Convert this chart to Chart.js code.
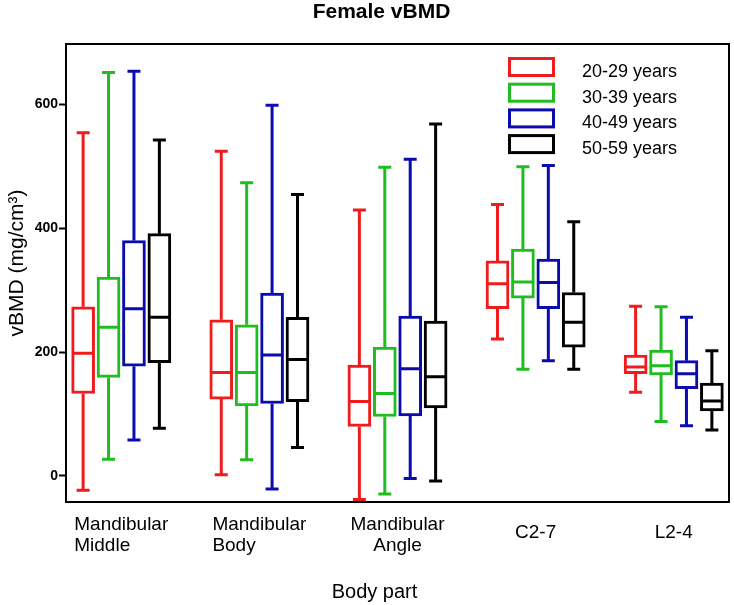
<!DOCTYPE html>
<html>
<head>
<meta charset="utf-8">
<title>Female vBMD</title>
<script src="https://cdn.jsdelivr.net/npm/chart.js@4.4.1/dist/chart.umd.min.js"></script>
<style>
    body { margin: 0; background: #fff; }
    #wrap { width: 734px; height: 605px; }
</style>
</head>
<body>
<div id="wrap"><canvas id="boxChart" width="734" height="605"></canvas></div>
<script>
// --- Data ---
const bodyParts = [['Mandibular', 'Middle'], ['Mandibular', 'Body'], ['Mandibular', 'Angle'], ['C2-7'], ['L2-4']];
const ageGroups = ['20-29 years', '30-39 years', '40-49 years', '50-59 years'];
const yTicks = [0, 200, 400, 600];

// each entry: [min, q1, median, q3, max]
const age20s = [[-23, 133, 198, 273, 554], [2, 124, 167, 252, 524], [-38, 80, 120, 179, 429], [221, 270, 310, 347, 438], [135, 165, 176, 195, 274]];
const age30s = [[27, 159, 240, 321, 651], [26, 113, 167, 244, 473], [-29, 96, 133, 208, 498], [172, 287, 313, 366, 499], [88, 163, 178, 203, 273]];
const age40s = [[58, 177, 270, 380, 653], [-21, 117, 195, 295, 598], [-4, 97, 173, 258, 511], [186, 270, 312, 350, 501], [81, 141, 165, 186, 256]];
const age50s = [[77, 183, 256, 391, 542], [46, 120, 188, 256, 454], [-8, 110, 160, 250, 568], [172, 208, 248, 296, 410], [74, 105, 121, 150, 202]];

const groupStats = [age20s, age30s, age40s, age50s];
const groupColors = ['#ee1c1c', '#1fbd1f', '#0c0cae', '#000000'];

// --- Layout helpers ---
const boxWidth = 23;
const groupOffsets = [-0.276, -0.092, 0.092, 0.276];
const xLabelAlign = ['left', 'left', 'center', 'center', 'center'];
const fontFamily = "'Liberation Sans', Arial, sans-serif";

// whiskers, medians, frame, legend and titles
const boxPlotExtras = {
    id: 'boxPlotExtras',
    afterDatasetsDraw(chart) {
        const { ctx, chartArea: ca, scales: { x, y } } = chart;
        ctx.save();
        ctx.lineWidth = 3;
        ctx.lineCap = 'butt';
        groupStats.forEach((stats, d) => {
            ctx.strokeStyle = groupColors[d];
            stats.forEach((s, i) => {
                const cx = x.getPixelForValue(i + groupOffsets[d]);
                const [mn, q1, med, q3, mx] = s.map(v => y.getPixelForValue(v));
                ctx.beginPath();
                // upper whisker + cap
                ctx.moveTo(cx, q3); ctx.lineTo(cx, mx);
                ctx.moveTo(cx - 6.5, mx); ctx.lineTo(cx + 6.5, mx);
                // lower whisker + cap
                ctx.moveTo(cx, q1); ctx.lineTo(cx, mn);
                ctx.moveTo(cx - 6.5, mn); ctx.lineTo(cx + 6.5, mn);
                // median
                ctx.moveTo(cx - boxWidth / 2 + 1, med); ctx.lineTo(cx + boxWidth / 2 - 1, med);
                ctx.stroke();
            });
        });

        // plot frame
        ctx.lineWidth = 2;
        ctx.strokeStyle = '#000';
        ctx.strokeRect(ca.left, ca.top, ca.right - ca.left, ca.bottom - ca.top);

        // legend inside the plot
        ctx.font = '18px ' + fontFamily;
        ctx.textAlign = 'left';
        ctx.textBaseline = 'alphabetic';
        ageGroups.forEach((label, d) => {
            const top = ca.top + 13 + d * 25.7;
            ctx.lineWidth = 3;
            ctx.strokeStyle = groupColors[d];
            ctx.strokeRect(ca.left + 443.5, top + 1.5, 44, 17);
            ctx.fillStyle = '#000';
            ctx.fillText(label, ca.left + 516, top + 20);
        });

        // category labels
        ctx.font = '19px ' + fontFamily;
        bodyParts.forEach((lines, i) => {
            const cx = x.getPixelForValue(i);
            const w = Math.max(...lines.map(l => ctx.measureText(l).width));
            if (lines.length === 1) {
                ctx.textAlign = 'center';
                ctx.fillText(lines[0], cx, ca.bottom + 36);
                return;
            }
            lines.forEach((l, k) => {
                const yy = ca.bottom + 28 + k * 21;
                if (xLabelAlign[i] === 'left') {
                    ctx.textAlign = 'left';
                    ctx.fillText(l, cx - w / 2, yy);
                } else {
                    ctx.textAlign = 'center';
                    ctx.fillText(l, cx, yy);
                }
            });
        });

        // axis titles + chart title
        ctx.textAlign = 'center';
        ctx.font = '20px ' + fontFamily;
        ctx.fillText('Body part', 374.5, 597.5);

        ctx.font = 'bold 21px ' + fontFamily;
        ctx.fillText('Female vBMD', 381.5, 17.5);

        ctx.save();
        ctx.font = '21px ' + fontFamily;
        ctx.translate(23, 263);
        ctx.rotate(-Math.PI / 2);
        ctx.fillText('vBMD (mg/cm³)', 0, 0);
        ctx.restore();

        ctx.restore();
    }
};

new Chart(document.getElementById('boxChart'), {
    type: 'bar',
    data: {
        datasets: groupStats.map((stats, d) => ({
            label: ageGroups[d],
            data: stats.map((s, i) => ({ x: i + groupOffsets[d], y: [s[1], s[3]] })),
            backgroundColor: '#ffffff',
            borderColor: groupColors[d],
            borderWidth: 3,
            borderSkipped: false,
            barThickness: boxWidth,
            grouped: false
        }))
    },
    options: {
        responsive: false,
        animation: false,
        layout: { padding: { left: 0, right: 5, top: 44, bottom: 103 } },
        plugins: {
            legend: { display: false },
            title: { display: false },
            tooltip: { enabled: false }
        },
        scales: {
            x: {
                type: 'linear',
                display: false,
                offset: false,
                min: -0.4,
                max: 4.4
            },
            y: {
                min: -42,
                max: 697,
                afterBuildTicks: scale => { scale.ticks = yTicks.map(v => ({ value: v })); },
                afterFit: scale => { scale.width = 66; },
                border: { display: false },
                grid: {
                    drawOnChartArea: false,
                    drawTicks: true,
                    tickLength: 7,
                    tickWidth: 2,
                    tickColor: '#000'
                },
                ticks: {
                    padding: 1,
                    color: '#000',
                    font: { family: fontFamily, size: 14, weight: 'bold' }
                }
            }
        }
    },
    plugins: [boxPlotExtras]
});
</script>
</body>
</html>
